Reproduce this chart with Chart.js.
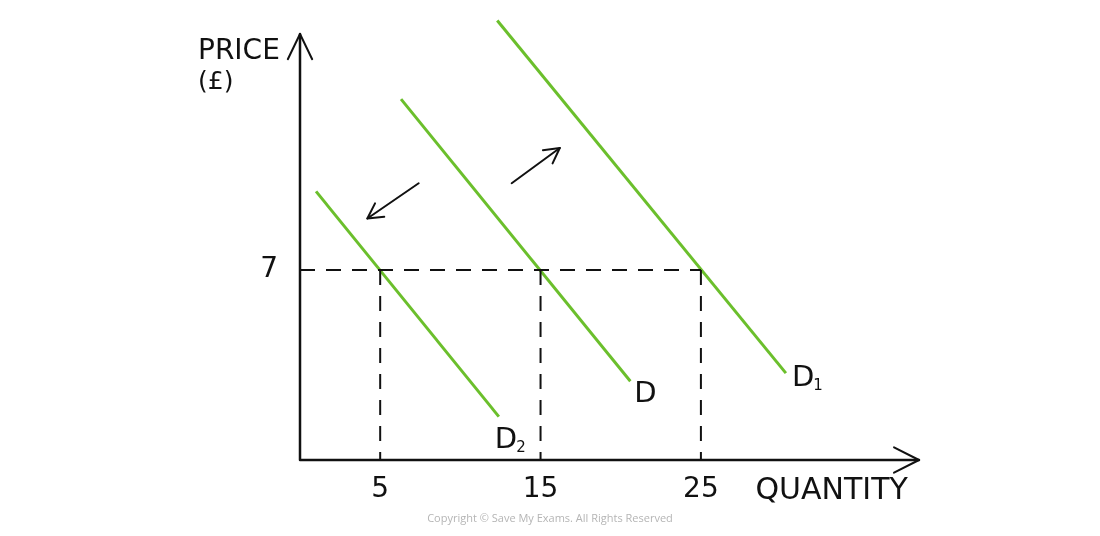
<!DOCTYPE html>
<html>
<head>
<meta charset="utf-8">
<script src="https://cdn.jsdelivr.net/npm/chart.js@4.4.1/dist/chart.umd.min.js"></script>
<style>
  body { margin: 0; background: #fff; }
  canvas { display: block; }
</style>
</head>
<body>
<canvas id="myChart" width="1100" height="536"></canvas>
<script>
//data
const quantityTicks = [5, 15, 25];
const priceTicks = [7];
const eqPrice = 7;
const curveNames = ["D", "D", "D"];
const curveSubs = ["2", "", "1"];
// each demand curve: [top point, bottom point] as {x: quantity, y: price}
const curveD2 = [{ x: 1.0, y: 9.9 }, { x: 12.4, y: 1.6 }];
const curveD = [{ x: 6.3, y: 13.3 }, { x: 20.6, y: 2.9 }];
const curveD1 = [{ x: 12.3, y: 16.2 }, { x: 30.3, y: 3.2 }];
// shift arrows: [from, to]
const shiftLeft = [{ x: 7.4, y: 10.2 }, { x: 4.2, y: 8.9 }];
const shiftRight = [{ x: 13.2, y: 10.2 }, { x: 16.2, y: 11.5 }];
const xMax = 38.6;
const yMax = 16.4;
const yAxisTop = 15.7;

const green = "#6bbf2c";
const ink = "#111";
const font = "'DejaVu Sans', sans-serif";

//dashed guides
const guides = [
  [{ x: 0, y: eqPrice }, { x: quantityTicks[2], y: eqPrice }],
].concat(quantityTicks.map((q) => [{ x: q, y: eqPrice }, { x: q, y: 0 }]));

const datasets = [];
guides.forEach((g) => {
  datasets.push({
    data: g,
    showLine: true,
    borderColor: ink,
    borderWidth: 2,
    borderDash: [15, 11],
    pointRadius: 0,
  });
});
[curveD2, curveD, curveD1].forEach((c) => {
  datasets.push({
    data: c,
    showLine: true,
    borderColor: green,
    borderWidth: 3,
    pointRadius: 0,
    clip: false,
  });
});

function arrowHead(ctx, x1, y1, x2, y2, len, spread) {
  const ang = Math.atan2(y2 - y1, x2 - x1);
  ctx.beginPath();
  ctx.moveTo(x2 - len * Math.cos(ang - spread), y2 - len * Math.sin(ang - spread));
  ctx.lineTo(x2, y2);
  ctx.lineTo(x2 - len * Math.cos(ang + spread), y2 - len * Math.sin(ang + spread));
  ctx.stroke();
}

const sketch = {
  id: "sketch",
  afterDatasetsDraw(chart) {
    const { ctx, scales } = chart;
    const x = scales.x, y = scales.y;
    const ox = x.getPixelForValue(0);
    const oy = y.getPixelForValue(0);
    const yt = y.getPixelForValue(yAxisTop);
    const xr = x.getPixelForValue(xMax);
    ctx.save();
    ctx.strokeStyle = ink;
    ctx.lineCap = "round";
    ctx.lineJoin = "round";

    // axes
    ctx.lineWidth = 2.5;
    ctx.beginPath();
    ctx.moveTo(ox, yt);
    ctx.lineTo(ox, oy);
    ctx.lineTo(xr, oy);
    ctx.stroke();
    ctx.lineWidth = 2;
    arrowHead(ctx, ox, oy, ox, yt, 28, 0.45);
    arrowHead(ctx, ox, oy, xr, oy, 28, 0.47);

    // shift arrows
    ctx.lineWidth = 2;
    [shiftLeft, shiftRight].forEach((a) => {
      const x1 = x.getPixelForValue(a[0].x), y1 = y.getPixelForValue(a[0].y);
      const x2 = x.getPixelForValue(a[1].x), y2 = y.getPixelForValue(a[1].y);
      ctx.beginPath();
      ctx.moveTo(x1, y1);
      ctx.lineTo(x2, y2);
      ctx.stroke();
      arrowHead(ctx, x1, y1, x2, y2, 17, 0.5);
    });

    // axis names
    ctx.fillStyle = ink;
    ctx.textBaseline = "alphabetic";
    ctx.textAlign = "left";
    ctx.font = "28px " + font;
    ctx.fillText("PRICE", ox - 102, 59);
    ctx.font = "25px " + font;
    ctx.fillText("(£)", ox - 102, 89);
    ctx.font = "30px " + font;
    ctx.fillText("QUANTITY", x.getPixelForValue(28.4), oy + 39);

    // curve labels
    const curves = [curveD2, curveD, curveD1];
    const offs = [[-4, 31], [4, 21], [6, 13]];
    curves.forEach((c, i) => {
      const px = x.getPixelForValue(c[1].x) + offs[i][0];
      const py = y.getPixelForValue(c[1].y) + offs[i][1];
      ctx.font = "29px " + font;
      ctx.fillText(curveNames[i], px, py);
      if (curveSubs[i]) {
        const w = ctx.measureText(curveNames[i]).width;
        ctx.font = "15px " + font;
        ctx.fillText(curveSubs[i], px + w - 1, py + 4);
      }
    });

    // copyright
    ctx.fillStyle = "#b5b5b5";
    ctx.textAlign = "center";
    ctx.font = "11px 'Open Sans', sans-serif";
    ctx.fillText("Copyright © Save My Exams. All Rights Reserved", 550, 522);
    ctx.restore();
  },
};

const config = {
  type: "scatter",
  data: { datasets: datasets },
  options: {
    responsive: false,
    animation: false,
    layout: { padding: { top: 15, right: 181, left: 0, bottom: 0 } },
    plugins: {
      legend: { display: false },
      tooltip: { enabled: false },
    },
    scales: {
      x: {
        type: "linear",
        min: 0,
        max: xMax,
        grid: { display: false, drawTicks: false },
        border: { display: false },
        afterBuildTicks: (s) => {
          s.ticks = quantityTicks.map((v) => ({ value: v }));
        },
        afterFit: (s) => {
          s.height = 76;
          s.paddingLeft = 0;
          s.paddingRight = 0;
        },
        ticks: {
          color: ink,
          padding: 13,
          maxRotation: 0,
          font: { family: "DejaVu Sans", size: 28 },
        },
      },
      y: {
        type: "linear",
        min: 0,
        max: yMax,
        grid: { display: false, drawTicks: false },
        border: { display: false },
        afterBuildTicks: (s) => {
          s.ticks = priceTicks.map((v) => ({ value: v }));
        },
        afterFit: (s) => {
          s.width = 300;
          s.paddingTop = 0;
          s.paddingBottom = 0;
        },
        ticks: {
          color: ink,
          padding: 22,
          font: { family: "DejaVu Sans", size: 28 },
        },
      },
    },
  },
  plugins: [sketch],
};

//chart
const myChart = new Chart(document.getElementById("myChart"), config);
</script>
</body>
</html>
